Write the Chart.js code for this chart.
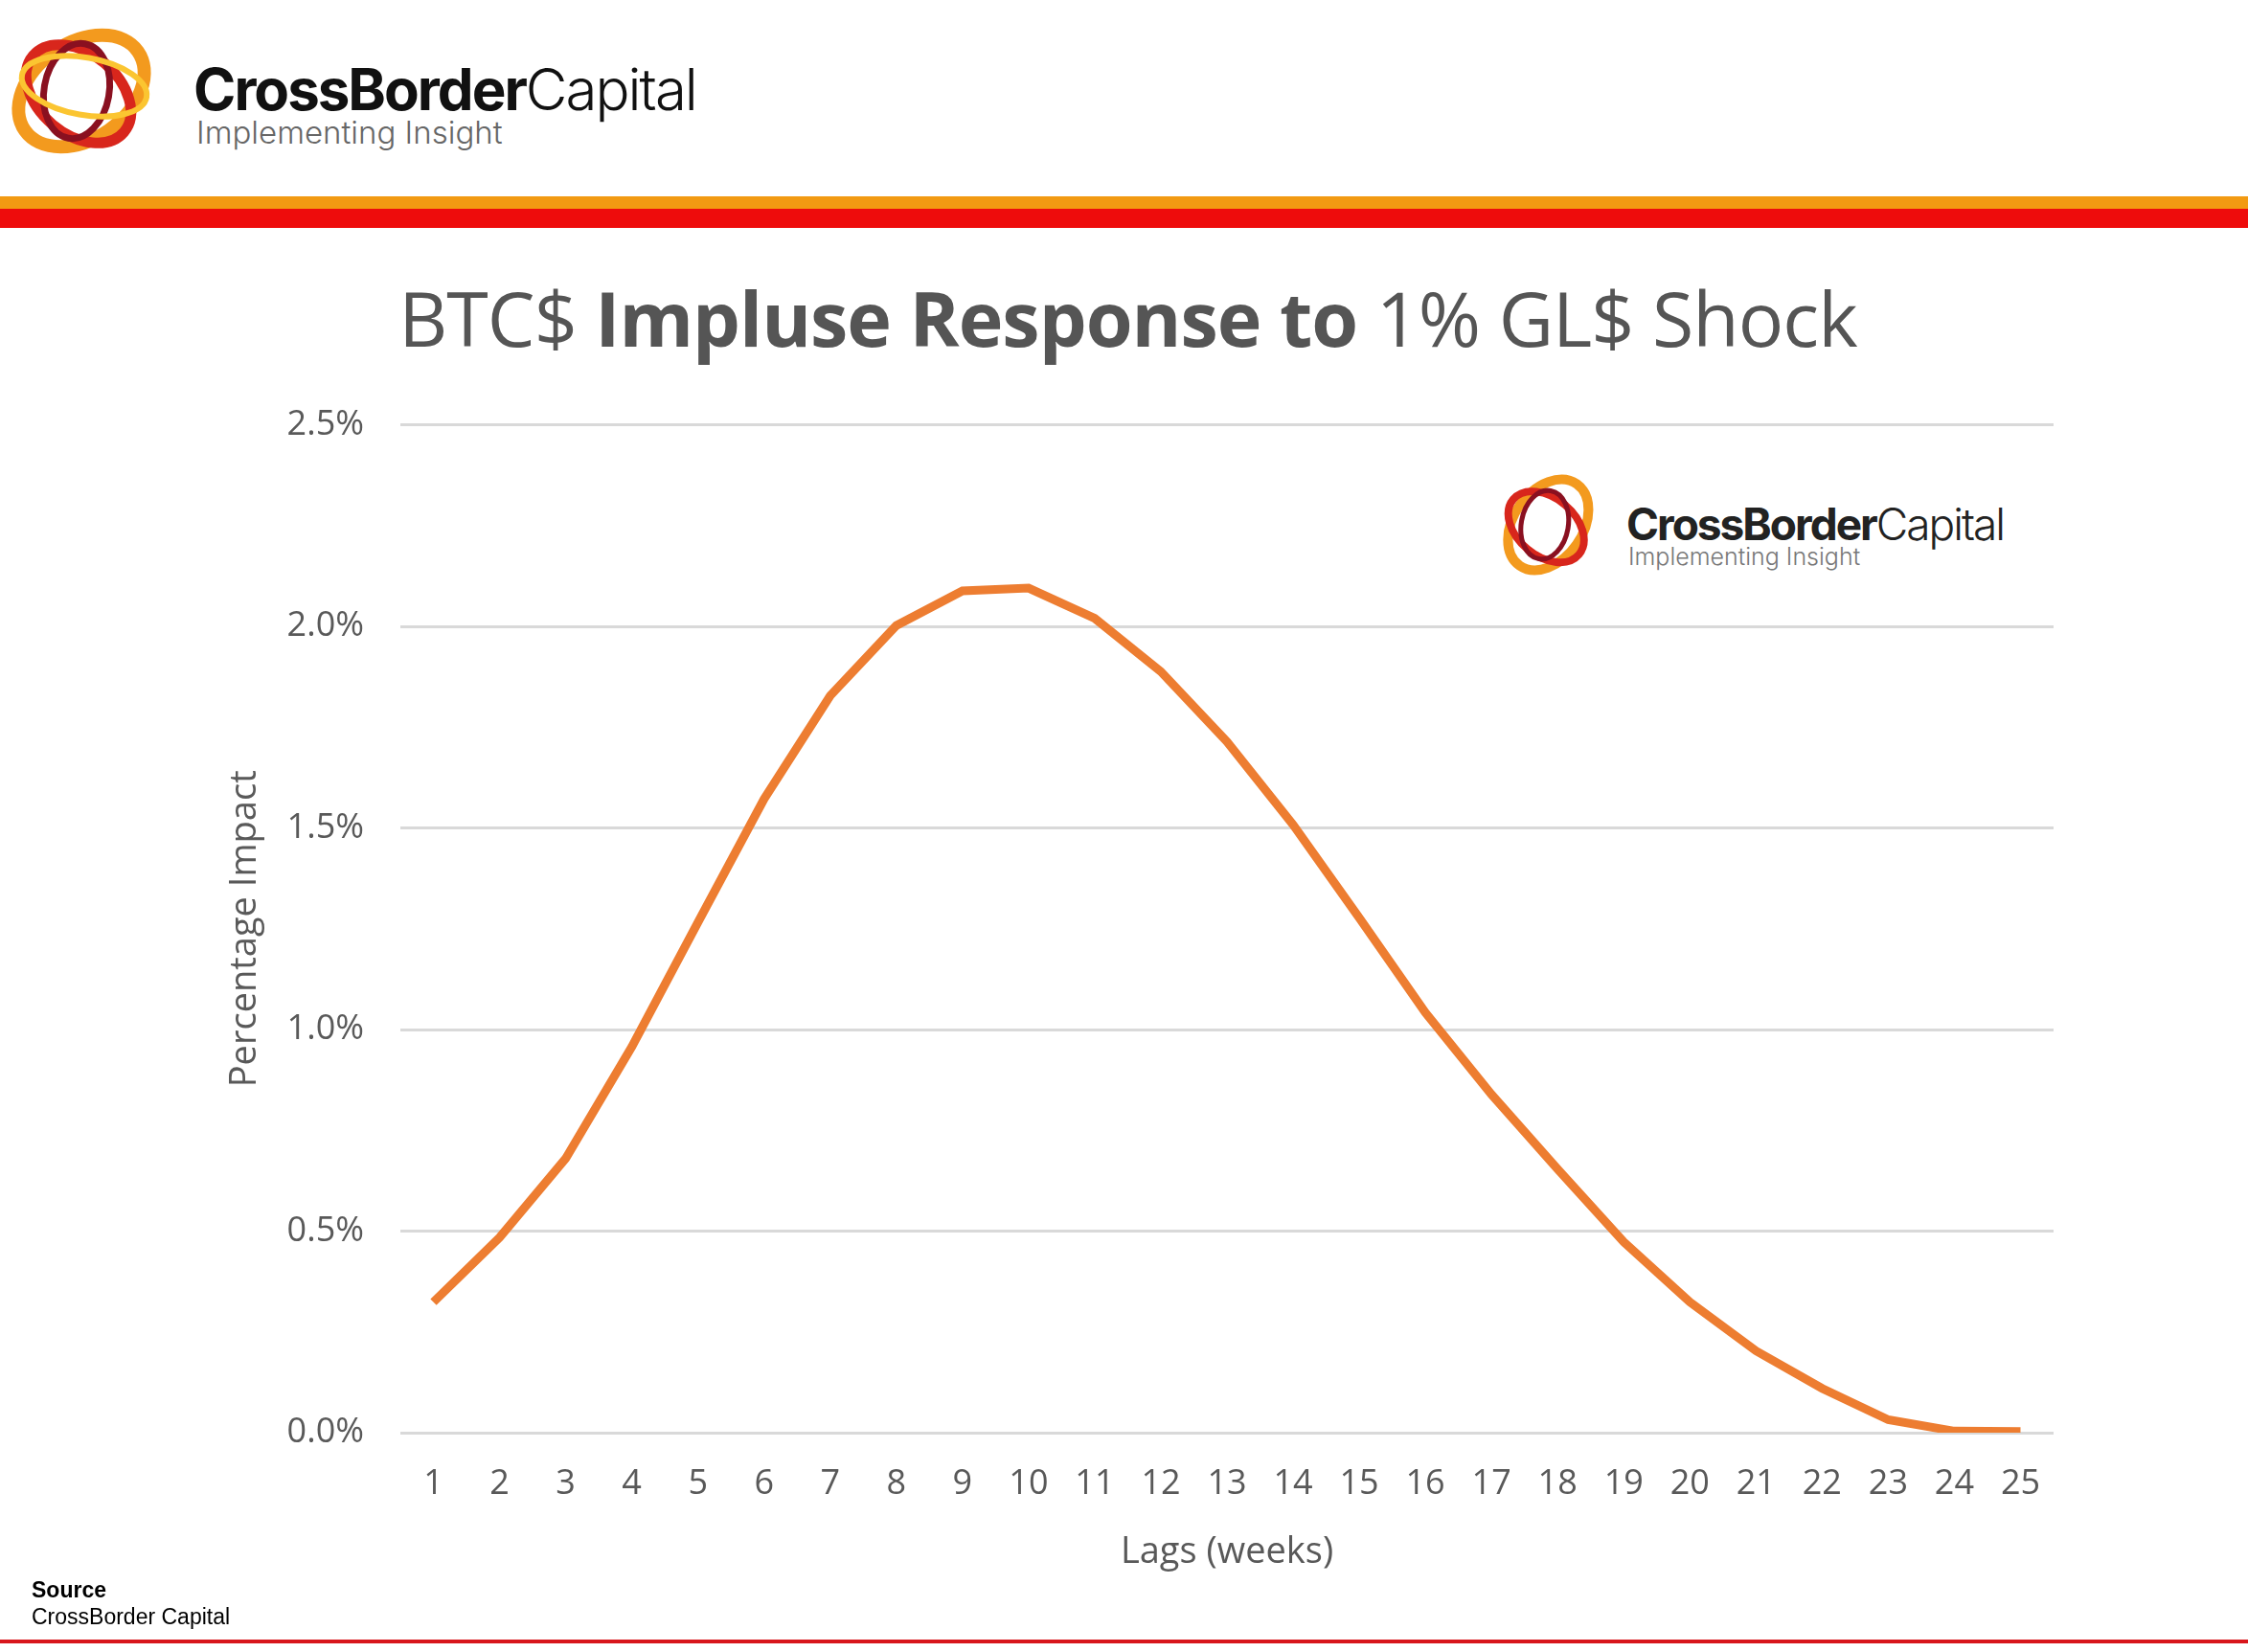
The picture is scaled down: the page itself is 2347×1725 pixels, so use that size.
<!DOCTYPE html>
<html><head><meta charset="utf-8">
<script src="https://cdn.jsdelivr.net/npm/chart.js@4"></script>
<style>
body{margin:0;width:2347px;height:1725px;background:#fff;position:relative;overflow:hidden;font-family:"Open Sans",Arial,sans-serif}
.abs{position:absolute}
</style></head><body>
<svg class="abs" style="left:0;top:0" width="180" height="190" viewBox="0 0 180 190">
<ellipse cx="85" cy="95" rx="72" ry="50" transform="rotate(-35 85 95)" fill="none" stroke="#f39a1e" stroke-width="14"/>
<ellipse cx="82" cy="98" rx="62" ry="42" transform="rotate(40 82 98)" fill="none" stroke="#d8261c" stroke-width="11"/>
<ellipse cx="80" cy="95" rx="50" ry="34" transform="rotate(-80 80 95)" fill="none" stroke="#8a1020" stroke-width="7"/>
<ellipse cx="88" cy="90" rx="66" ry="30" transform="rotate(10 88 90)" fill="none" stroke="#fbc531" stroke-width="6"/>
</svg>
<div class="abs" style="left:202px;top:58px;font-family:Inter,Arial;font-size:60px;letter-spacing:-2px;color:#111;line-height:70px"><b>CrossBorder</b><span style="font-weight:300">Capital</span></div>
<div class="abs" style="left:205px;top:118px;font-family:Inter,Arial;font-size:33px;color:#666;font-weight:300">Implementing Insight</div>
<div class="abs" style="left:0;top:205px;width:2347px;height:13px;background:#f29a12"></div>
<div class="abs" style="left:0;top:218px;width:2347px;height:20px;background:#ee0c0c"></div>
<div class="abs" style="left:0;top:282px;width:2347px;text-align:center;font-family:'Open Sans';font-size:79px;color:#555;line-height:100px;padding-left:8px;box-sizing:border-box;letter-spacing:-1px">BTC$ <b>Impluse Response to</b> 1% GL$ Shock</div>
<svg class="abs" style="left:1555px;top:478px" width="130" height="140" viewBox="0 0 180 190">
<ellipse cx="85" cy="95" rx="72" ry="50" transform="rotate(-55 85 95)" fill="none" stroke="#f39a1e" stroke-width="14"/>
<ellipse cx="82" cy="98" rx="62" ry="42" transform="rotate(40 82 98)" fill="none" stroke="#d8261c" stroke-width="11"/>
<ellipse cx="80" cy="95" rx="50" ry="34" transform="rotate(-80 80 95)" fill="none" stroke="#8a1020" stroke-width="7"/>
</svg>
<div class="abs" style="left:1698px;top:520px;font-family:Inter,Arial;font-size:46px;letter-spacing:-2px;color:#222;line-height:54px"><b>CrossBorder</b><span style="font-weight:300">Capital</span></div>
<div class="abs" style="left:1700px;top:566px;font-family:Inter,Arial;font-size:25px;color:#777;font-weight:300">Implementing Insight</div>
<div class="abs" style="left:233px;top:384px;width:1972px;height:1264px"><canvas id="c"></canvas></div>
<div class="abs" style="left:33px;top:1646px;font-family:Arial;font-size:23px;color:#000;line-height:28px"><b>Source</b><br>CrossBorder Capital</div>
<div class="abs" style="left:0;top:1712px;width:2347px;height:4px;background:#d8161c"></div>
<script>
const lags=["1","2","3","4","5","6","7","8","9","10","11","12","13","14","15","16","17","18","19","20","21","22","23","24","25"];
const impact=[0.324,0.484,0.68,0.957,1.266,1.572,1.828,2.002,2.088,2.095,2.02,1.888,1.714,1.508,1.277,1.042,0.839,0.654,0.473,0.324,0.203,0.11,0.032,0.004,0.003];
new Chart(document.getElementById('c'),{type:'line',
data:{labels:lags,datasets:[{data:impact,borderColor:'#ED7D31',borderWidth:9,pointRadius:0,tension:0,fill:false}]},
options:{responsive:true,maintainAspectRatio:false,animation:false,
layout:{padding:{top:0,right:61}},
plugins:{legend:{display:false},tooltip:{enabled:false}},
scales:{
x:{offset:true,grid:{display:false},border:{display:false},
 ticks:{color:'#595959',font:{family:'Open Sans',size:36},padding:24,maxRotation:0,autoSkip:false},
 title:{display:true,text:'Lags (weeks)',color:'#595959',font:{family:'Open Sans',size:38},padding:{top:2}},
 afterFit:s=>{s.height=152}},
y:{min:0,max:2.5,grid:{color:'#d9d9d9',lineWidth:3,drawTicks:false},border:{display:false},
 ticks:{stepSize:0.5,color:'#595959',font:{family:'Open Sans',size:36},padding:38,callback:v=>v.toFixed(1)+'%'},
 title:{display:true,text:'Percentage Impact',color:'#595959',font:{family:'Open Sans',size:38},padding:0},
 afterFit:s=>{s.width=185}}}}});
</script>
</body></html>
